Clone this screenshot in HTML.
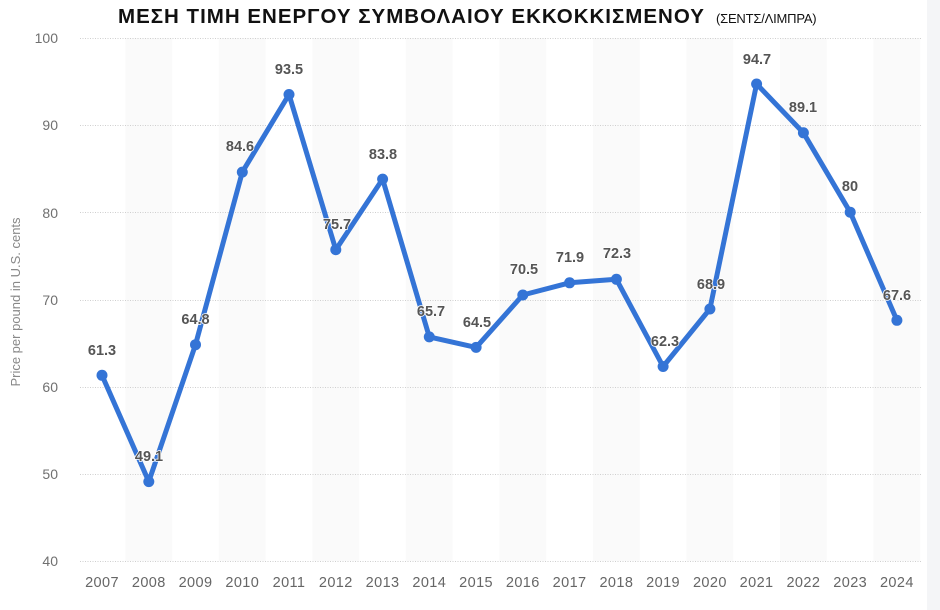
<!DOCTYPE html>
<html>
<head>
<meta charset="utf-8">
<style>
  html,body{margin:0;padding:0;background:#fff;}
  body{width:940px;height:610px;overflow:hidden;position:relative;}
  svg{display:block;}
  text{font-family:"Liberation Sans","DejaVu Sans",sans-serif;}
</style>
</head>
<body>
<svg width="940" height="610" viewBox="0 0 940 610" xmlns="http://www.w3.org/2000/svg">
  <rect x="0" y="0" width="940" height="610" fill="#fff"/>
  <rect x="927" y="0" width="13" height="610" fill="#f4f5f7"/>

  <!-- Title -->
  <text x="118" y="23" font-size="20.5" font-weight="bold" fill="#111" letter-spacing="1">ΜΕΣΗ ΤΙΜΗ ΕΝΕΡΓΟΥ ΣΥΜΒΟΛΑΙΟΥ ΕΚΚΟΚΚΙΣΜΕΝΟΥ</text>
  <text x="716" y="23" font-size="13" fill="#111" letter-spacing="-0.2">(ΣΕΝΤΣ/ΛΙΜΠΡΑ)</text>

  <!-- Alternating bands (even years) -->
  <g fill="#fafafa">
    <rect x="125.4" y="38" width="46.8" height="523"/>
    <rect x="218.9" y="38" width="46.8" height="523"/>
    <rect x="312.4" y="38" width="46.8" height="523"/>
    <rect x="405.9" y="38" width="46.8" height="523"/>
    <rect x="499.4" y="38" width="46.8" height="523"/>
    <rect x="593.0" y="38" width="46.8" height="523"/>
    <rect x="686.5" y="38" width="46.8" height="523"/>
    <rect x="780.0" y="38" width="46.8" height="523"/>
    <rect x="873.5" y="38" width="46.8" height="523"/>
  </g>

  <!-- Gridlines -->
  <g stroke="#cfcfcf" stroke-width="1" stroke-dasharray="1,1.5">
    <line x1="80" y1="38.5" x2="922" y2="38.5"/>
    <line x1="80" y1="125.5" x2="922" y2="125.5"/>
    <line x1="80" y1="212.5" x2="922" y2="212.5"/>
    <line x1="80" y1="300.5" x2="922" y2="300.5"/>
    <line x1="80" y1="387.5" x2="922" y2="387.5"/>
    <line x1="80" y1="474.5" x2="922" y2="474.5"/>
    <line x1="80" y1="561.5" x2="922" y2="561.5"/>
  </g>

  <!-- Y tick labels -->
  <g font-size="14" fill="#707070" text-anchor="end">
    <text x="58" y="43">100</text>
    <text x="58" y="130">90</text>
    <text x="58" y="218">80</text>
    <text x="58" y="305">70</text>
    <text x="58" y="392">60</text>
    <text x="58" y="479">50</text>
    <text x="58" y="566">40</text>
  </g>

  <!-- Y axis title -->
  <text transform="translate(20,302) rotate(-90)" font-size="13" fill="#888" text-anchor="middle">Price per pound in U.S. cents</text>

  <!-- X labels -->
  <g font-size="14.5" fill="#666" text-anchor="middle" letter-spacing="0.4">
    <text x="102" y="587">2007</text>
    <text x="148.8" y="587">2008</text>
    <text x="195.5" y="587">2009</text>
    <text x="242.3" y="587">2010</text>
    <text x="289" y="587">2011</text>
    <text x="335.8" y="587">2012</text>
    <text x="382.6" y="587">2013</text>
    <text x="429.3" y="587">2014</text>
    <text x="476.1" y="587">2015</text>
    <text x="522.8" y="587">2016</text>
    <text x="569.6" y="587">2017</text>
    <text x="616.4" y="587">2018</text>
    <text x="663.1" y="587">2019</text>
    <text x="709.9" y="587">2020</text>
    <text x="756.6" y="587">2021</text>
    <text x="803.4" y="587">2022</text>
    <text x="850.2" y="587">2023</text>
    <text x="896.9" y="587">2024</text>
  </g>

  <!-- Series line -->
  <polyline fill="none" stroke="#3474d6" stroke-width="5" stroke-linejoin="round" stroke-linecap="round"
    points="102,375.3 148.8,481.6 195.5,344.7 242.3,172.1 289,94.5 335.8,249.7 382.6,179.1 429.3,336.9 476.1,347.4 522.8,295.0 569.6,282.8 616.4,279.3 663.1,366.5 709.9,309.0 756.6,84.0 803.4,132.8 850.2,212.2 896.9,320.3"/>
  <g fill="#3474d6">
    <circle cx="102" cy="375.3" r="5.5"/>
    <circle cx="148.8" cy="481.6" r="5.5"/>
    <circle cx="195.5" cy="344.7" r="5.5"/>
    <circle cx="242.3" cy="172.1" r="5.5"/>
    <circle cx="289" cy="94.5" r="5.5"/>
    <circle cx="335.8" cy="249.7" r="5.5"/>
    <circle cx="382.6" cy="179.1" r="5.5"/>
    <circle cx="429.3" cy="336.9" r="5.5"/>
    <circle cx="476.1" cy="347.4" r="5.5"/>
    <circle cx="522.8" cy="295.0" r="5.5"/>
    <circle cx="569.6" cy="282.8" r="5.5"/>
    <circle cx="616.4" cy="279.3" r="5.5"/>
    <circle cx="663.1" cy="366.5" r="5.5"/>
    <circle cx="709.9" cy="309.0" r="5.5"/>
    <circle cx="756.6" cy="84.0" r="5.5"/>
    <circle cx="803.4" cy="132.8" r="5.5"/>
    <circle cx="850.2" cy="212.2" r="5.5"/>
    <circle cx="896.9" cy="320.3" r="5.5"/>
  </g>

  <!-- Data labels -->
  <g font-size="14.5" font-weight="bold" fill="#555" text-anchor="middle" stroke="#fff" stroke-width="1.5" paint-order="stroke" stroke-linejoin="round">
    <text x="102" y="355">61.3</text>
    <text x="149" y="461">49.1</text>
    <text x="195.5" y="324">64.8</text>
    <text x="240" y="151">84.6</text>
    <text x="289" y="74">93.5</text>
    <text x="337" y="229">75.7</text>
    <text x="383" y="159">83.8</text>
    <text x="431" y="316">65.7</text>
    <text x="477" y="327">64.5</text>
    <text x="524" y="274">70.5</text>
    <text x="570" y="262">71.9</text>
    <text x="617" y="258">72.3</text>
    <text x="665" y="346">62.3</text>
    <text x="711" y="289">68.9</text>
    <text x="757" y="64">94.7</text>
    <text x="803" y="112">89.1</text>
    <text x="850" y="191">80</text>
    <text x="897" y="300">67.6</text>
  </g>
</svg>
</body>
</html>
